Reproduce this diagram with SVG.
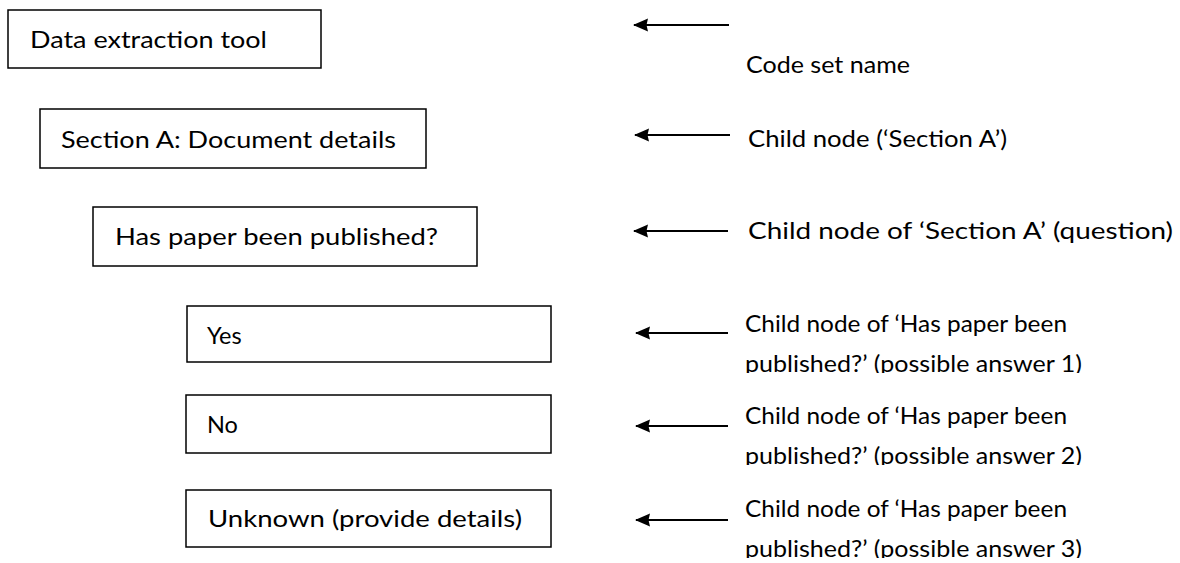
<svg xmlns="http://www.w3.org/2000/svg" width="1180" height="563" viewBox="0 0 1180 563">
<style>
.box{fill:#fff;stroke:#000;stroke-width:1.5}
.t{font-family:Lato,"Open Sans","Liberation Sans",sans-serif;font-size:23.5px;fill:#000}
.conn{stroke:#000;stroke-width:2;fill:none}
</style>
<defs>
<marker id="ah" markerWidth="16" markerHeight="14" refX="14" refY="7" orient="auto" markerUnits="userSpaceOnUse">
<path d="M0,0.5 L15,7 L0,13.5 L1.5,7 Z" fill="#000"/>
</marker>
<clipPath id="c1"><rect x="700" y="300" width="480" height="73"/></clipPath>
<clipPath id="c2"><rect x="700" y="395" width="480" height="70"/></clipPath>
<clipPath id="c3"><rect x="700" y="488" width="480" height="70"/></clipPath>
</defs>
<rect width="1180" height="563" fill="#fff"/>
<g id="node-data-extraction">
<rect class="box" x="8" y="10" width="313" height="58"/>
<text class="t" x="30" y="48" textLength="237" lengthAdjust="spacingAndGlyphs">Data extraction tool</text>
</g>
<g id="node-section-a">
<rect class="box" x="40" y="109" width="386" height="59"/>
<text class="t" x="61" y="148" textLength="335" lengthAdjust="spacingAndGlyphs">Section A: Document details</text>
</g>
<g id="node-question">
<rect class="box" x="93" y="207" width="384" height="59"/>
<text class="t" x="115" y="245" textLength="323" lengthAdjust="spacingAndGlyphs">Has paper been published?</text>
</g>
<g id="node-yes">
<rect class="box" x="187" y="306" width="364" height="56"/>
<text class="t" x="207" y="344">Yes</text>
</g>
<g id="node-no">
<rect class="box" x="186" y="395" width="365" height="58"/>
<text class="t" x="207" y="433">No</text>
</g>
<g id="node-unknown">
<rect class="box" x="186" y="490" width="365" height="57"/>
<text class="t" x="208" y="527" textLength="314" lengthAdjust="spacingAndGlyphs">Unknown (provide details)</text>
</g>
<g id="connectors">
<line class="conn" x1="729" y1="25" x2="634" y2="25" marker-end="url(#ah)"/>
<line class="conn" x1="730" y1="135" x2="635" y2="135" marker-end="url(#ah)"/>
<line class="conn" x1="728" y1="231" x2="634" y2="231" marker-end="url(#ah)"/>
<line class="conn" x1="728" y1="333" x2="636" y2="333" marker-end="url(#ah)"/>
<line class="conn" x1="728" y1="426" x2="636" y2="426" marker-end="url(#ah)"/>
<line class="conn" x1="728" y1="520" x2="636" y2="520" marker-end="url(#ah)"/>
</g>
<g id="labels">
<text class="t" x="746" y="73" textLength="164" lengthAdjust="spacingAndGlyphs">Code set name</text>
<text class="t" x="748" y="147" textLength="259" lengthAdjust="spacingAndGlyphs">Child node (‘Section A’)</text>
<text class="t" x="748" y="239" textLength="425" lengthAdjust="spacingAndGlyphs">Child node of ‘Section A’ (question)</text>
<g clip-path="url(#c1)">
<text class="t" x="745" y="332" textLength="322" lengthAdjust="spacingAndGlyphs">Child node of ‘Has paper been</text>
<text class="t" x="745" y="372" textLength="337" lengthAdjust="spacingAndGlyphs">published?’ (possible answer 1)</text>
</g>
<g clip-path="url(#c2)">
<text class="t" x="745" y="424" textLength="322" lengthAdjust="spacingAndGlyphs">Child node of ‘Has paper been</text>
<text class="t" x="745" y="464" textLength="337" lengthAdjust="spacingAndGlyphs">published?’ (possible answer 2)</text>
</g>
<g clip-path="url(#c3)">
<text class="t" x="745" y="517" textLength="322" lengthAdjust="spacingAndGlyphs">Child node of ‘Has paper been</text>
<text class="t" x="745" y="557" textLength="337" lengthAdjust="spacingAndGlyphs">published?’ (possible answer 3)</text>
</g>
</g>
</svg>
